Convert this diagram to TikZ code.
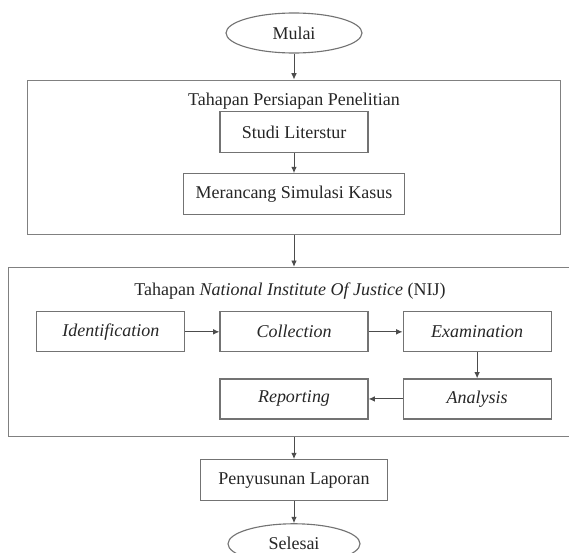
\documentclass[tikz,border=0pt]{standalone}
\usepackage{fontspec}
\setmainfont{Liberation Serif}
\usepackage{tikz}
\usetikzlibrary{shapes.geometric, arrows.meta, positioning, calc}

\begin{document}
\begin{tikzpicture}[
    node distance=0.65cm,
    font=\fontsize{12.8}{15}\selectfont,
    text=black!85,
    kotak/.style={rectangle, draw=black!55, line width=0.8pt, minimum width=3.7cm, minimum height=1.0cm, align=center},
    terminal/.style={ellipse, draw=black!55, line width=0.8pt, minimum width=3.4cm, minimum height=1.0cm},
    bingkai/.style={rectangle, draw=black!50, line width=0.9pt},
    judul/.style={inner sep=0pt},
    panah/.style={-{Latex[length=4.5pt,width=4pt]}, draw=black!70, line width=0.7pt}
]
\useasboundingbox (0,0) rectangle (14.225,-13.825);

% Mulai
\node[terminal] (mulai) at (7.35,-0.825) {Mulai};

% Tahapan persiapan
\node[bingkai, minimum width=13.325cm, minimum height=3.85cm, below=0.65cm of mulai] (tahap1) {};
\node[judul] (judul1) at ($(tahap1.north)+(0,-0.55)$) {Tahapan Persiapan Penelitian};
\node[kotak, minimum height=1.025cm] (studi) at ($(tahap1.north)+(0,-1.3125)$) {Studi Literstur};
\node[kotak, minimum width=5.525cm, minimum height=1.025cm, below=0.5cm of studi] (rancang) {Merancang Simulasi Kasus};

% Tahapan NIJ
\node[bingkai, minimum width=14.275cm, minimum height=4.225cm, below=0.8cm of tahap1] (tahap2) {};
\node[judul] (judul2) at ($(tahap2.north)+(-0.1,-0.6)$) {Tahapan \textit{National Institute Of Justice} (NIJ)};
\node[kotak] (collect) at ($(tahap2.north)+(0,-1.625)$) {\textit{Collection}};
\node[kotak, left=0.85cm of collect] (ident) {\textit{Identification}};
\node[kotak, right=0.85cm of collect] (exam) {\textit{Examination}};
\node[kotak, below=0.65cm of exam] (analisis) {\textit{Analysis}};
\node[kotak, below=0.65cm of collect] (report) {\textit{Reporting}};

% Output
\node[kotak, minimum width=4.675cm, minimum height=1.025cm, below=0.55cm of tahap2] (susun) {Penyusunan Laporan};
\node[terminal, minimum width=3.3cm, below=0.55cm of susun] (selesai) {Selesai};

% Panah
\draw[panah] (mulai) -- (tahap1);
\draw[panah] (studi) -- (rancang);
\draw[panah] (tahap1) -- (tahap2);
\draw[panah] (ident) -- (collect);
\draw[panah] (collect) -- (exam);
\draw[panah] (exam) -- (analisis);
\draw[panah] (analisis) -- (report);
\draw[panah] (tahap2) -- (susun);
\draw[panah] (susun) -- (selesai);

\end{tikzpicture}
\end{document}
